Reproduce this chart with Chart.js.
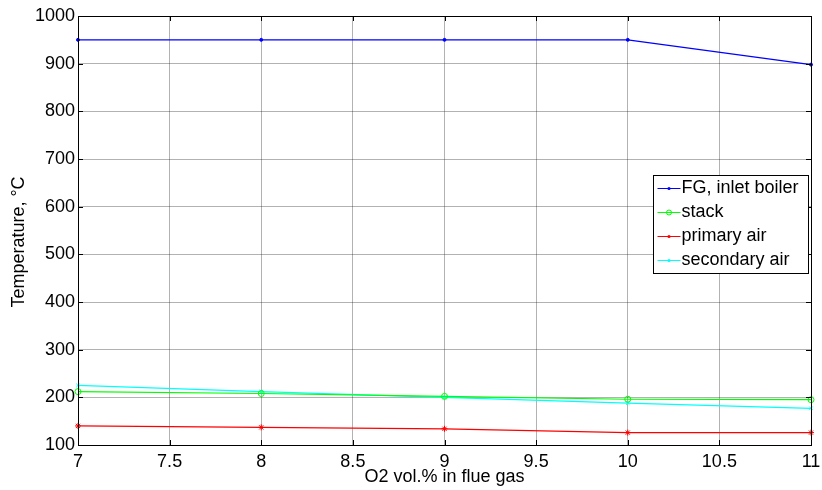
<!DOCTYPE html>
<html>
<head>
<meta charset="utf-8">
<script src="https://cdn.jsdelivr.net/npm/chart.js@4"></script>
<style>
  html, body { margin: 0; padding: 0; background: #fff; }
  #wrap { width: 822px; height: 490px; }
</style>
</head>
<body>
<div id="wrap"><canvas id="chart" width="822" height="490"></canvas></div>
<script>
const o2 = [7, 8, 9, 10, 11];
const fgInlet = [950, 950, 950, 950, 898];
const stack = [212, 208, 202, 196, 195];
const primaryAir = [140, 137, 134, 126, 126];
const secondaryAir = [225, 212, 200, 188, 177];
const seriesNames = ["FG, inlet boiler", "stack", "primary air", "secondary air"];
const seriesColors = ["#0000ff", "#00ff00", "#ff0000", "#00ffff"];
const FONT = "'Liberation Sans', Arial, sans-serif";

const pts = ys => o2.map((x, i) => ({ x: x, y: ys[i] }));

// axes box, inward ticks, y title, legend box (matlab look)
const matlabBits = {
  id: "matlabBits",
  afterDraw(chart) {
    const c = chart.ctx, a = chart.chartArea;
    const xs = chart.scales.x, ys = chart.scales.y;
    c.save();
    c.strokeStyle = "#000";
    c.lineWidth = 1;
    c.beginPath();
    xs.ticks.forEach(t => {
      const px = Math.round(xs.getPixelForValue(t.value)) + 0.5;
      c.moveTo(px, a.bottom); c.lineTo(px, a.bottom - 5);
      c.moveTo(px, a.top); c.lineTo(px, a.top + 5);
    });
    ys.ticks.forEach(t => {
      const py = Math.round(ys.getPixelForValue(t.value)) + 0.5;
      c.moveTo(a.left, py); c.lineTo(a.left + 5, py);
      c.moveTo(a.right, py); c.lineTo(a.right - 5, py);
    });
    c.stroke();
    c.strokeRect(Math.round(a.left) + 0.5, Math.round(a.top) + 0.5,
      Math.round(a.right - a.left), Math.round(a.bottom - a.top));

    c.font = "18px " + FONT;
    c.fillStyle = "#000";
    c.save();
    c.translate(19, 242);
    c.rotate(-Math.PI / 2);
    c.textAlign = "center";
    c.textBaseline = "middle";
    c.fillText("Temperature, °C", 0, 0);
    c.restore();

    // legend
    const lx = 653.5, ly = 175.5, lw = 155, lh = 98;
    c.fillStyle = "#fff";
    c.fillRect(lx, ly, lw, lh);
    c.strokeStyle = "#000";
    c.strokeRect(lx, ly, lw, lh);
    c.textBaseline = "middle";
    seriesNames.forEach((name, i) => {
      const yy = Math.round(ly + 12 + i * 24) + 0.5;
      const col = seriesColors[i];
      c.strokeStyle = col;
      c.lineWidth = 1;
      c.beginPath();
      c.moveTo(lx + 4, yy); c.lineTo(lx + 27, yy);
      c.stroke();
      c.beginPath();
      if (i === 1) {
        c.arc(lx + 15.5, yy, 2.5, 0, Math.PI * 2);
        c.stroke();
      } else {
        c.fillStyle = col;
        c.arc(lx + 15.5, yy, 1.6, 0, Math.PI * 2);
        c.fill();
      }
      c.fillStyle = "#000";
      c.fillText(name, lx + 28, yy);
    });
    c.restore();
  }
};

new Chart(document.getElementById("chart"), {
  type: "line",
  data: {
    datasets: [
      { label: seriesNames[0], data: pts(fgInlet), borderColor: seriesColors[0], backgroundColor: seriesColors[0],
        pointStyle: "circle", pointRadius: 1.5 },
      { label: seriesNames[1], data: pts(stack), borderColor: seriesColors[1], backgroundColor: "transparent",
        pointStyle: "circle", pointRadius: 3, pointBorderWidth: 1 },
      { label: seriesNames[2], data: pts(primaryAir), borderColor: seriesColors[2], backgroundColor: seriesColors[2],
        pointStyle: "star", pointRadius: 3 },
      { label: seriesNames[3], data: pts(secondaryAir), borderColor: seriesColors[3], backgroundColor: seriesColors[3],
        pointStyle: "crossRot", pointRadius: 2.5 }
    ]
  },
  options: {
    responsive: false,
    animation: false,
    clip: false,
    elements: { line: { borderWidth: 1.2, tension: 0 } },
    layout: { padding: { top: 16, right: 11, left: 0, bottom: 0 } },
    plugins: { legend: { display: false }, tooltip: { enabled: false } },
    scales: {
      x: {
        type: "linear", min: 7, max: 11,
        ticks: { stepSize: 0.5, color: "#000", font: { family: FONT, size: 18 }, padding: 6, maxRotation: 0,
          callback: v => String(v) },
        grid: { color: "rgba(0,0,0,0.3)", drawTicks: false },
        border: { display: false },
        title: { display: true, text: "O2 vol.% in flue gas", color: "#000", font: { family: FONT, size: 18 }, padding: { top: 0, bottom: 2 } },
        afterFit(s) { s.height = 45; s.paddingLeft = 0; s.paddingRight = 0; }
      },
      y: {
        min: 100, max: 1000,
        ticks: { stepSize: 100, color: "#000", font: { family: FONT, size: 18 }, padding: 3,
          callback: v => String(v) },
        grid: { color: "rgba(0,0,0,0.3)", drawTicks: false },
        border: { display: false },
        afterFit(s) { s.width = 78; s.paddingTop = 0; s.paddingBottom = 0; }
      }
    }
  },
  plugins: [matlabBits]
});
</script>
</body>
</html>
